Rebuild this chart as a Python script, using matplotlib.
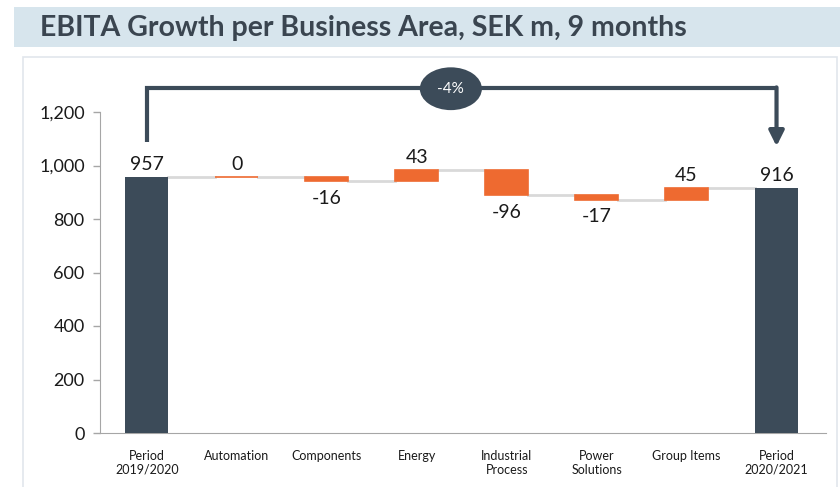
import matplotlib.pyplot as plt
from matplotlib.patches import Rectangle, Ellipse

CATEGORIES = ["Period\n2019/2020", "Automation", "Components", "Energy",
              "Industrial\nProcess", "Power\nSolutions", "Group Items", "Period\n2020/2021"]
VALUES = [957, 0, -16, 43, -96, -17, 45, 916]
IS_TOTAL = [True, False, False, False, False, False, False, True]
CHANGE_LABEL = "-4%"
TITLE = "EBITA Growth per Business Area, SEK m, 9 months"

DARK = "#3c4b59"
ORANGE = "#ee6a30"
CONNECTOR = "#d9d9d9"
W = 0.48

plt.rcParams['font.family'] = ['Lato', 'DejaVu Sans']

fig = plt.figure(figsize=(8.4, 4.87), dpi=100)

# title bar and chart panel
fig.patches.append(Rectangle((14/840, 1-47/487), 826/840, 40/487, transform=fig.transFigure,
                             facecolor="#d7e5ed", edgecolor="none", zorder=0))
fig.text(40/840, 1-28/487, TITLE, fontsize=20.5, fontweight="bold", color="#3a4550", va="center")
fig.patches.append(Rectangle((23/840, -0.01), 814/840, 1-57/487+0.01, transform=fig.transFigure,
                             facecolor="none", edgecolor="#e1e6ec", linewidth=1.2, zorder=0))

ax = fig.add_axes([100/840, 1-433/487, 726/840, 321/487])

level = 0
for i, (v, tot) in enumerate(zip(VALUES, IS_TOTAL)):
    if tot:
        ax.bar(i, v, width=W, color=DARK, zorder=3)
        level = v
        ax.annotate(str(v), (i, v), xytext=(0, 3), textcoords="offset points",
                    ha="center", va="bottom", fontsize=14, color="#1a1a1a")
    else:
        new = level + v
        ax.bar(i, abs(v), bottom=min(level, new), width=W, color=ORANGE,
               edgecolor=ORANGE, linewidth=1.2, zorder=3)
        if v >= 0:
            ax.annotate(str(v), (i, max(level, new)), xytext=(0, 3), textcoords="offset points",
                        ha="center", va="bottom", fontsize=14, color="#1a1a1a")
        else:
            ax.annotate(str(v), (i, min(level, new)), xytext=(0, -6), textcoords="offset points",
                        ha="center", va="top", fontsize=14, color="#1a1a1a")
        level = new
    if i < len(VALUES) - 1:
        ax.plot([i + W/2, i + 1 - W/2], [level, level], color=CONNECTOR, lw=2, zorder=2)

# bracket arrow from first to last period
n = len(VALUES) - 1
ax.plot([0, 0, n], [1088, 1290, 1290], color=DARK, lw=3, clip_on=False,
        solid_capstyle="butt", solid_joinstyle="miter", zorder=4)
ax.annotate("", xy=(n, 1072), xytext=(n, 1292),
            arrowprops=dict(arrowstyle="-|>,head_length=0.9,head_width=0.45", color=DARK, lw=3,
                            shrinkA=0, shrinkB=0),
            annotation_clip=False, zorder=4)
ell = Ellipse((3.38, 1287), 0.69, 160, facecolor=DARK, edgecolor="none", clip_on=False, zorder=5)
ax.add_patch(ell)
ax.text(3.38, 1287, CHANGE_LABEL, color="white", fontsize=11, ha="center", va="center", zorder=6)

ax.set_xlim(-0.52, 7.55)
ax.set_ylim(0, 1200)
ax.set_yticks(range(0, 1201, 200))
ax.set_yticklabels([f"{t:,}" for t in range(0, 1201, 200)], fontsize=13, color="#1a1a1a")
ax.set_xticks(range(len(CATEGORIES)))
ax.set_xticklabels(CATEGORIES, fontsize=9, color="#1a1a1a")
ax.tick_params(axis="x", length=0, pad=12)
ax.tick_params(axis="y", length=5, color="#a6a6a6", width=1, pad=6)
for s in ["top", "right"]:
    ax.spines[s].set_visible(False)
ax.spines["left"].set_color("#a6a6a6")
ax.spines["bottom"].set_color("#a6a6a6")

fig.savefig("out.png", dpi=100)
